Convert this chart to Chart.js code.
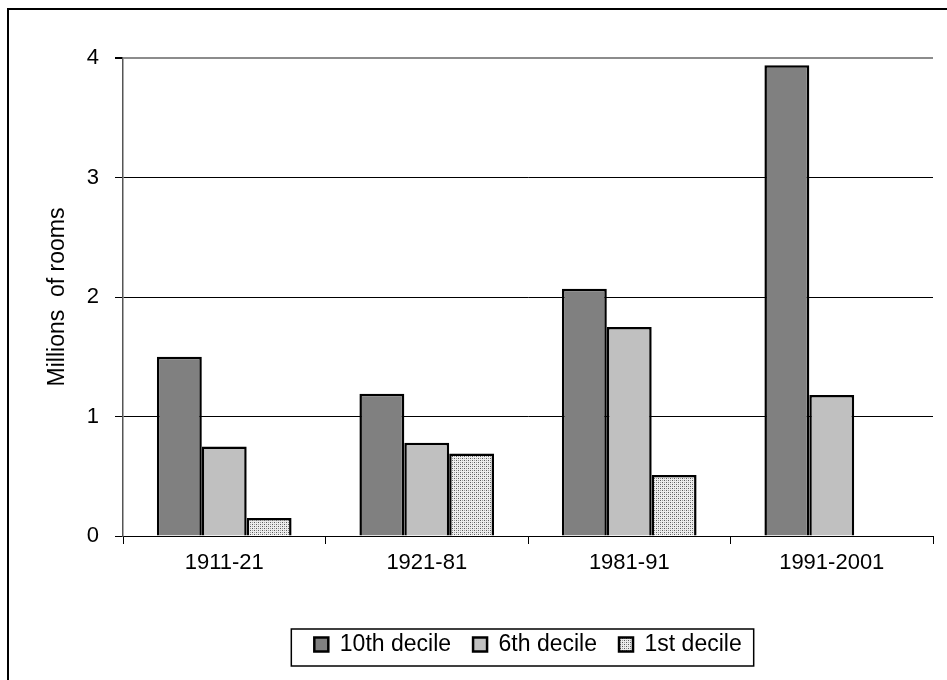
<!DOCTYPE html>
<html>
<head>
<meta charset="utf-8">
<script src="https://cdn.jsdelivr.net/npm/chart.js@4"></script>
<style>
  html, body { margin: 0; padding: 0; background: #fff; }
  #wrap { width: 947px; height: 680px; position: relative; }
</style>
</head>
<body>
<div id="wrap"><canvas id="roomsChart" width="947" height="680"></canvas></div>
<script>
var periods = ["1911-21", "1921-81", "1981-91", "1991-2001"];
var tenthDecile = [1.5, 1.19, 2.07, 3.94];
var sixthDecile = [0.75, 0.78, 1.75, 1.18];
var firstDecile = [0.15, 0.69, 0.51, null];
var seriesNames = ["10th decile", "6th decile", "1st decile"];
var yTicks = [0, 1, 2, 3, 4];

var fontFamily = "Arial, 'Liberation Sans', sans-serif";

// dotted fill used for the 1st decile bars
function makeDots() {
  var c = document.createElement("canvas");
  c.width = 4;
  c.height = 4;
  var g = c.getContext("2d");
  g.fillStyle = "#ededed";
  g.fillRect(0, 0, 4, 4);
  g.fillStyle = "#5a5a5a";
  g.fillRect(0, 0, 1, 1);
  g.fillRect(2, 2, 1, 1);
  g.fillStyle = "#a0a0a0";
  g.fillRect(2, 0, 1, 1);
  g.fillRect(0, 2, 1, 1);
  return g.createPattern(c, "repeat");
}
var dots = makeDots();

var framePlugin = {
  id: "frame",
  beforeDraw: function (chart) {
    var ctx = chart.ctx;
    ctx.save();
    ctx.strokeStyle = "#000";
    ctx.lineWidth = 2;
    ctx.beginPath();
    ctx.moveTo(8, 680);
    ctx.lineTo(8, 9);
    ctx.lineTo(947, 9);
    ctx.stroke();
    ctx.restore();
  },
  afterDraw: function (chart) {
    var boxes = chart.legend.legendHitBoxes;
    if (!boxes || !boxes.length) return;
    var minL = Infinity, maxR = -Infinity, top = boxes[0].top, h = boxes[0].height;
    boxes.forEach(function (b) {
      minL = Math.min(minL, b.left);
      maxR = Math.max(maxR, b.left + b.width);
    });
    var ctx = chart.ctx;
    ctx.save();
    ctx.strokeStyle = "#000";
    ctx.lineWidth = 1.5;
    ctx.strokeRect(minL - 23, top - 4, maxR - minL + 35, h + 14);
    ctx.restore();
  }
};

new Chart("roomsChart", {
  type: "bar",
  data: {
    labels: periods,
    datasets: [
      {
        label: seriesNames[0],
        data: tenthDecile,
        backgroundColor: "#808080",
        borderColor: "#000",
        borderWidth: 2.5,
        categoryPercentage: 0.665,
        barPercentage: 1.0,
      },
      {
        label: seriesNames[1],
        data: sixthDecile,
        backgroundColor: "#c0c0c0",
        borderColor: "#000",
        borderWidth: 2.5,
        categoryPercentage: 0.665,
        barPercentage: 1.0,
      },
      {
        label: seriesNames[2],
        data: firstDecile,
        backgroundColor: dots,
        borderColor: "#000",
        borderWidth: 2.5,
        categoryPercentage: 0.665,
        barPercentage: 1.0,
      },
    ],
  },
  options: {
    responsive: false,
    animation: false,
    layout: {
      padding: { top: 58, right: 14, bottom: 14, left: 0 },
    },
    plugins: {
      tooltip: { enabled: false },
      legend: {
        position: "bottom",
        fullSize: false,
        labels: {
          color: "#000",
          font: { family: fontFamily, size: 23 },
          boxWidth: 14,
          boxHeight: 14,
          padding: 22,
        },
      },
    },
    scales: {
      x: {
        grid: {
          offset: true,
          drawOnChartArea: false,
          drawTicks: true,
          tickLength: 8,
          tickColor: "#000",
        },
        border: { color: "#000", width: 1 },
        ticks: {
          color: "#000",
          padding: 6,
          font: { family: fontFamily, size: 22 },
        },
        afterFit: function (scale) {
          scale.height = 75;
        },
      },
      y: {
        min: 0,
        max: 4,
        afterBuildTicks: function (scale) {
          scale.ticks = yTicks.map(function (v) {
            return { value: v };
          });
        },
        grid: {
          color: function (c) {
            return c.tick && c.tick.value === 4 ? "#8c8c8c" : "#000";
          },
          lineWidth: function (c) {
            return c.tick && c.tick.value === 4 ? 2 : 1;
          },
          drawTicks: true,
          tickLength: 8,
          tickColor: "#000",
        },
        border: { color: "#555", width: 1.5 },
        ticks: {
          color: "#000",
          padding: 16,
          font: { family: fontFamily, size: 22 },
        },
        title: {
          display: true,
          text: "Millions  of rooms",
          color: "#000",
          font: { family: fontFamily, size: 23 },
          padding: { top: 44, bottom: 0 },
        },
        afterFit: function (scale) {
          scale.width = 123;
        },
      },
    },
  },
  plugins: [framePlugin],
});
</script>
</body>
</html>
